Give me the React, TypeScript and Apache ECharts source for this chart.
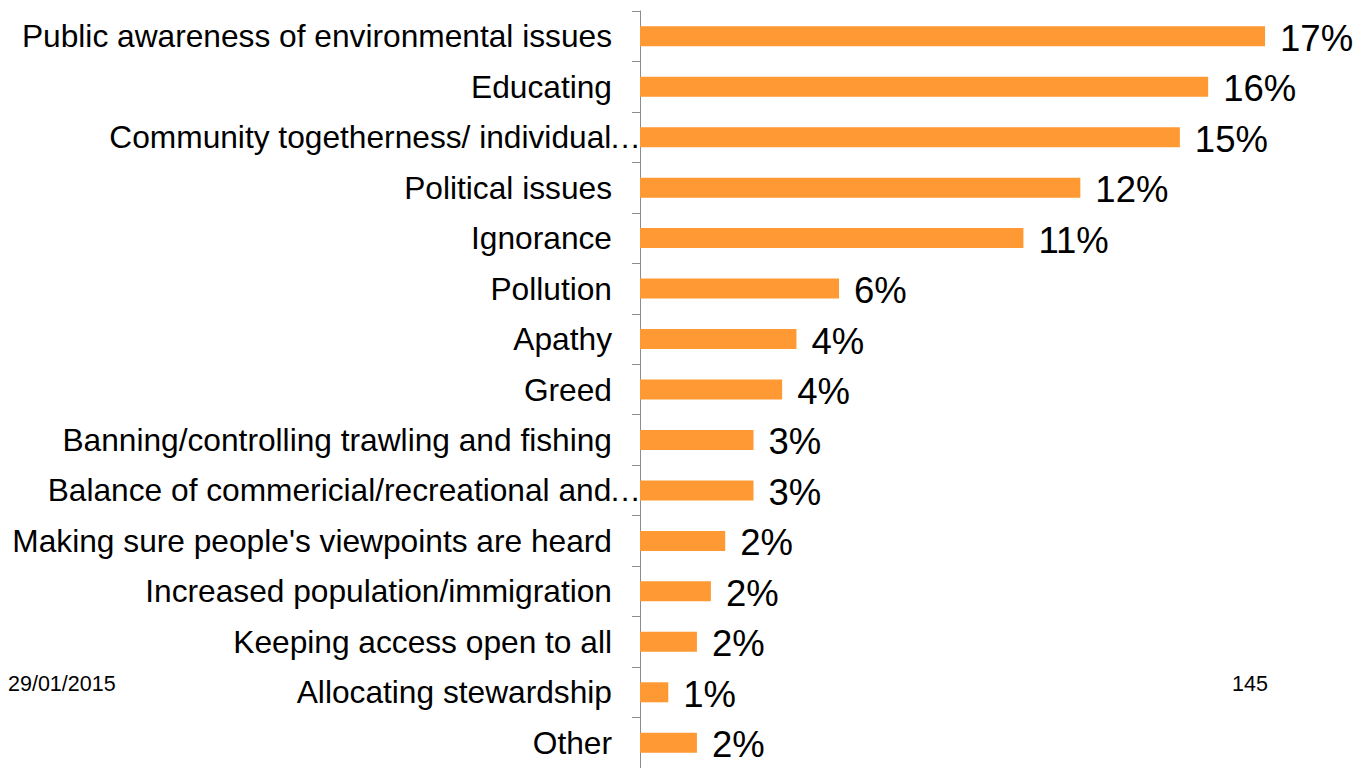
import React, { useEffect, useRef } from "react";
import * as echarts from "echarts";

const categories = [
  "Public awareness of environmental issues",
  "Educating",
  "Community togetherness/ individual…",
  "Political issues",
  "Ignorance",
  "Pollution",
  "Apathy",
  "Greed",
  "Banning/controlling trawling and fishing",
  "Balance of commericial/recreational and…",
  "Making sure people's viewpoints are heard",
  "Increased population/immigration",
  "Keeping access open to all",
  "Allocating stewardship",
  "Other",
];

// percentage of responses (labels show the rounded value)
const values = [17.46, 15.87, 15.08, 12.3, 10.71, 5.56, 4.37, 3.97, 3.17, 3.17, 2.38, 1.98, 1.59, 0.79, 1.59];

const footerDate = "29/01/2015";
const footerPage = "145";

const FONT = "'Liberation Sans', Arial, Helvetica, sans-serif";

export default function App() {
  const ref = useRef<HTMLDivElement>(null);
  useEffect(() => {
    if (!ref.current) return;
    const chart = echarts.init(ref.current, null, { renderer: "svg" });
    chart.setOption({
      animation: false,
      backgroundColor: "#ffffff",
      textStyle: { fontFamily: FONT },
      grid: { left: 640, right: 2, top: 11, bottom: -4, containLabel: false },
      xAxis: {
        type: "value",
        min: 0,
        max: 20,
        show: false,
        splitLine: { show: false },
      },
      yAxis: {
        type: "category",
        inverse: true,
        data: categories,
        axisLine: { show: true, lineStyle: { color: "#8c8c8c", width: 1 } },
        axisTick: { show: true, length: 8, inside: false, lineStyle: { color: "#8c8c8c" } },
        axisLabel: {
          color: "#000",
          fontSize: 31.7,
          fontFamily: FONT,
          margin: 28,
          formatter: (v: string) =>
            v.endsWith("…") ? `{t|${v.slice(0, -1)}}{e|…}` : v,
          rich: {
            t: {
              fontSize: 31.7,
              fontFamily: FONT,
              color: "#000",
            },
            e: {
              fontSize: 31.7,
              fontFamily: FONT,
              color: "#000",
              padding: [0, -29, 0, -2],
            },
          },
        },
        splitLine: { show: false },
      },
      series: [
        {
          type: "bar",
          data: values,
          barWidth: 20,
          itemStyle: { color: "#FF9933" },
          label: {
            show: true,
            position: "right",
            distance: 15,
            offset: [0, 2],
            color: "#000",
            fontSize: 36.5,
            fontFamily: FONT,
            formatter: (p: any) => `${Math.round(p.value)}%`,
          },
        },
      ],
      graphic: [
        {
          type: "text",
          left: 8,
          top: 673,
          style: { text: footerDate, fontSize: 21.5, fontFamily: FONT, fill: "#000" },
        },
        {
          type: "text",
          left: 1232,
          top: 673,
          style: { text: footerPage, fontSize: 21.5, fontFamily: FONT, fill: "#000" },
        },
      ],
    });
    return () => chart.dispose();
  }, []);
  return (
    <div
      ref={ref}
      style={{ position: "fixed", left: 0, top: 0, width: 1358, height: 768 }}
    />
  );
}
